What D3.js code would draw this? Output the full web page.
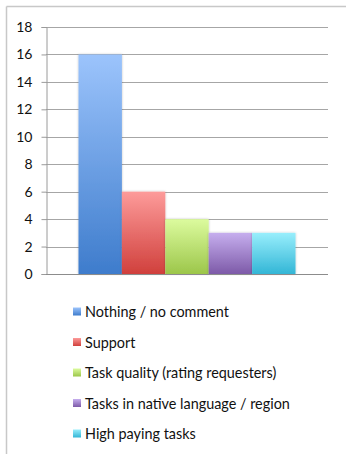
<!DOCTYPE html>
<html>
<head>
<meta charset="UTF-8">
<title>Bar chart</title>
<script src="https://d3js.org/d3.v7.min.js"></script>
<style>
  body { margin: 0; padding: 0; background: #fff; font-family: Lato, "Liberation Sans", sans-serif; }
  svg { display: block; }
  .tick text { font-size: 14px; fill: #111; }
  .legend text { font-size: 14.4px; fill: #111; }
</style>
</head>
<body>
<svg id="chart" width="346" height="454"></svg>
<script>
// data
const categories = ["Nothing / no comment", "Support", "Task quality (rating requesters)", "Tasks in native language / region", "High paying tasks"];
const values = [16, 6, 4, 3, 3];
const yTicks = [0, 2, 4, 6, 8, 10, 12, 14, 16, 18];
// gradient colours, top / bottom
const topColors = ["#9cc4fc", "#fd9b9a", "#dcfb9e", "#c6aeee", "#98eefc"];
const bottomColors = ["#3e7ccc", "#d0403c", "#9cc64a", "#7d5aa8", "#33b6d6"];

const svg = d3.select("#chart");
const margin = { left: 46, right: 328, top: 27, bottom: 274 };

// outer frame (top and left edges only visible)
svg.append("line").attr("x1", 6.5).attr("x2", 346).attr("y1", 6.5).attr("y2", 6.5)
  .attr("stroke", "#c8c8c8").attr("stroke-width", 1.5);
svg.append("line").attr("x1", 6.5).attr("x2", 6.5).attr("y1", 6.5).attr("y2", 454)
  .attr("stroke", "#c8c8c8").attr("stroke-width", 1.5);

// bars span about 217px centred in 282px
const x = d3.scaleBand().domain(categories).range([margin.left, margin.right])
  .paddingInner(0).paddingOuter((282 / 217 * 5 - 5) / 2);
const y = d3.scaleLinear().domain([0, 18]).range([margin.bottom, margin.top]);

const defs = svg.append("defs");
categories.forEach((c, i) => {
  const g = defs.append("linearGradient").attr("id", "grad" + i)
    .attr("x1", 0).attr("x2", 0).attr("y1", 0).attr("y2", 1);
  g.append("stop").attr("offset", "0%").attr("stop-color", topColors[i]);
  g.append("stop").attr("offset", "100%").attr("stop-color", bottomColors[i]);
});
const shadow = defs.append("filter").attr("id", "shadow")
  .attr("x", "-20%").attr("y", "-5%").attr("width", "140%").attr("height", "110%");
shadow.append("feDropShadow").attr("dx", 0).attr("dy", 0).attr("stdDeviation", 1.2)
  .attr("flood-color", "#000").attr("flood-opacity", 0.25);

// gridlines
svg.append("g")
  .selectAll("line")
  .data(yTicks.filter(d => d > 0))
  .join("line")
  .attr("x1", margin.left).attr("x2", margin.right)
  .attr("y1", d => Math.round(y(d)) + 0.5).attr("y2", d => Math.round(y(d)) + 0.5)
  .attr("stroke", "#a6a6a6").attr("stroke-width", 1.2);

// y axis
const yAxis = svg.append("g")
  .attr("transform", `translate(${margin.left + 0.5},0)`)
  .call(d3.axisLeft(y).tickValues(yTicks).tickSize(5).tickPadding(9));
yAxis.select(".domain").attr("stroke", "#9a9a9a");
yAxis.selectAll(".tick line").attr("stroke", "#9a9a9a");
yAxis.selectAll(".tick text").attr("font-family", "Lato, sans-serif");

// bars
svg.append("g")
  .selectAll("rect")
  .data(values)
  .join("rect")
  .attr("x", (d, i) => x(categories[i]))
  .attr("width", x.bandwidth())
  .attr("y", d => y(d))
  .attr("height", d => y(0) - y(d))
  .attr("fill", (d, i) => `url(#grad${i})`)
  .attr("filter", "url(#shadow)");

// x axis baseline
svg.append("line")
  .attr("x1", margin.left).attr("x2", margin.right)
  .attr("y1", Math.round(y(0)) + 0.5).attr("y2", Math.round(y(0)) + 0.5)
  .attr("stroke", "#8c8c8c").attr("stroke-width", 1.2);

// legend
const legend = svg.append("g").attr("class", "legend");
const item = legend.selectAll("g")
  .data(categories)
  .join("g")
  .attr("transform", (d, i) => `translate(73,${312 + i * 30.5})`);
item.append("rect")
  .attr("x", 0).attr("y", -4.5).attr("width", 8).attr("height", 8)
  .attr("fill", (d, i) => `url(#grad${i})`);
item.append("text")
  .attr("x", 12).attr("y", 5)
  .text(d => d);
</script>
</body>
</html>
